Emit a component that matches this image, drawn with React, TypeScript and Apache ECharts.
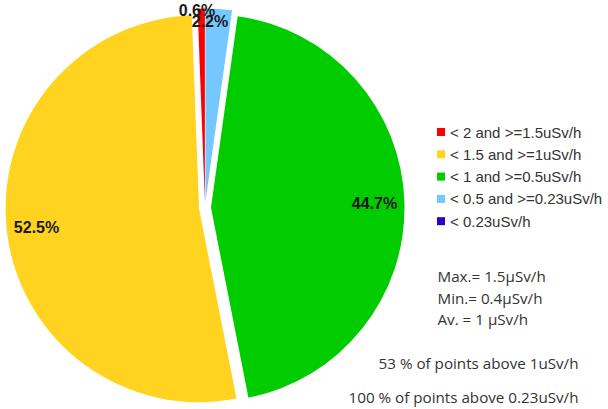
import React, { useEffect, useRef } from "react";
import * as echarts from "echarts";

const categories = [
  "< 2 and >=1.5uSv/h",
  "< 1.5 and >=1uSv/h",
  "< 1 and >=0.5uSv/h",
  "< 0.5 and >=0.23uSv/h",
  "< 0.23uSv/h",
];
const shares = [0.6, 52.5, 44.7, 2.2, 0];
const sliceColors = ["#ff0000", "#ffd320", "#00cc00", "#74c8ff", "#2a00cc"];
const statLines = ["Max.= 1.5µSv/h", "Min.= 0.4µSv/h", "Av. = 1 µSv/h"];
const summaryLines = ["53 % of points above 1uSv/h", "100 % of points above 0.23uSv/h"];

// label nudges for the thin slices (label placement only)
const labelNudge: Record<number, [number, number]> = { 0: [19, 2], 3: [-32, 12.5] };
const smallShare = 5;

export default function App() {
  const ref = useRef<HTMLDivElement>(null);
  useEffect(() => {
    if (!ref.current) return;
    const chart = echarts.init(ref.current, undefined, { renderer: "svg" });
    const R = 193.5;
    const center = [205, 208];
    const offset = 6;

    const mainData = categories.map((name, i) => ({
      name,
      value: shares[i],
      selected: true,
      itemStyle: { color: sliceColors[i] },
    }));
    const bigLabelData = categories.map((name, i) => ({
      name,
      value: shares[i],
      selected: true,
      label: { show: shares[i] >= smallShare },
    }));
    const smallLabelData = categories.map((name, i) => ({
      name,
      value: shares[i],
      selected: true,
      label: { show: shares[i] > 0 && shares[i] < smallShare },
    }));

    const labelFont = {
      fontFamily: "Liberation Sans",
      fontWeight: "bold" as const,
      fontSize: 16,
      color: "#1a1a1a",
    };

    const textStyleBase = {
      fontFamily: "Open Sans",
      fontSize: 15.2,
      fill: "#333333",
      textVerticalAlign: "middle",
    };
    const graphics: any[] = [];
    const statY = [276, 297.5, 319];
    statLines.forEach((t, i) => {
      graphics.push({
        type: "text",
        x: 437.5,
        y: statY[i],
        silent: true,
        style: { text: t, textAlign: "left", ...textStyleBase },
      });
    });
    const sumY = [363, 396.5];
    summaryLines.forEach((t, i) => {
      graphics.push({
        type: "text",
        x: 578.5,
        y: sumY[i],
        silent: true,
        style: { text: t, textAlign: "right", ...textStyleBase },
      });
    });

    const overlayBase = {
      type: "pie",
      center,
      startAngle: 90,
      clockwise: false,
      selectedMode: "multiple",
      selectedOffset: offset,
      avoidLabelOverlap: false,
      silent: true,
      percentPrecision: 1,
      itemStyle: { color: "rgba(0,0,0,0)", borderWidth: 0 },
      select: { itemStyle: { color: "rgba(0,0,0,0)", borderWidth: 0 } },
      emphasis: { disabled: true },
    };

    chart.setOption({
      animation: false,
      legend: {
        orient: "vertical",
        left: 437,
        top: 124.5,
        padding: 0,
        itemWidth: 8,
        itemHeight: 8,
        itemGap: 7.3,
        icon: "rect",
        selectedMode: false,
        textStyle: {
          fontFamily: "Liberation Sans",
          fontSize: 15,
          lineHeight: 14,
          color: "#333333",
          padding: [0, 0, 0, 0],
        },
        data: categories.map((name, i) => ({ name, itemStyle: { color: sliceColors[i] } })),
      },
      graphic: graphics,
      series: [
        {
          type: "pie",
          center,
          radius: R,
          startAngle: 90,
          clockwise: false,
          selectedMode: "multiple",
          selectedOffset: offset,
          avoidLabelOverlap: false,
          silent: true,
          label: { show: false },
          labelLine: { show: false },
          emphasis: { disabled: true },
          select: { itemStyle: { borderWidth: 0 } },
          itemStyle: { borderWidth: 0 },
          data: mainData,
        },
        {
          ...overlayBase,
          radius: [R * 0.66, R],
          label: { show: true, position: "inside", formatter: "{d}%", ...labelFont },
          labelLine: { show: false },
          data: bigLabelData,
        },
        {
          ...overlayBase,
          radius: R,
          label: { show: true, position: "outside", formatter: "{d}%", distanceToLabelLine: 5, ...labelFont },
          labelLine: { show: false, length: 0, length2: 0 },
          labelLayout: (p: any) => {
            const n = labelNudge[p.dataIndex];
            return n ? { dx: n[0], dy: n[1], hideOverlap: false } : { hideOverlap: false };
          },
          data: smallLabelData,
        },
      ],
    });
    return () => chart.dispose();
  }, []);
  return (
    <div
      ref={ref}
      style={{ position: "absolute", left: 0, top: 0, width: 608, height: 409, background: "#ffffff" }}
    />
  );
}
